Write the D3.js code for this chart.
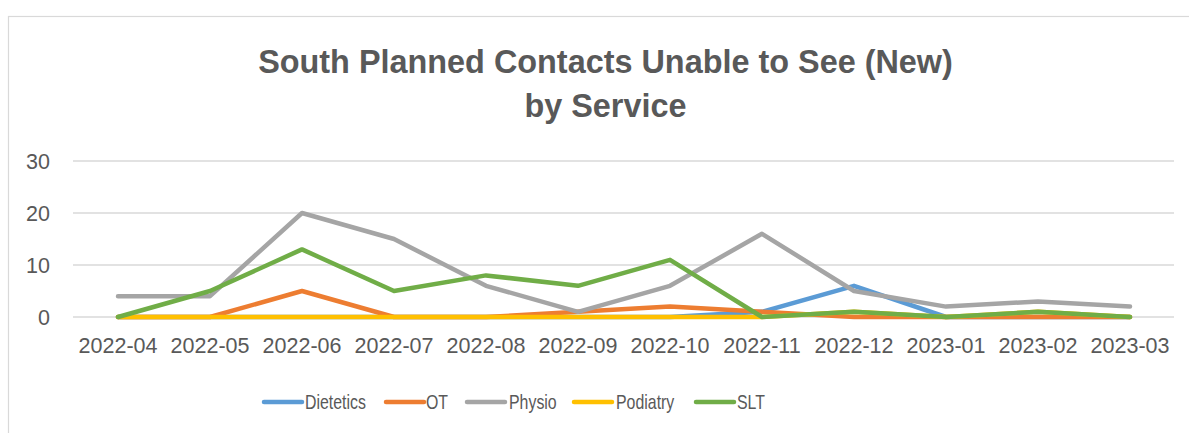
<!DOCTYPE html>
<html><head><meta charset="utf-8">
<script src="https://cdn.jsdelivr.net/npm/d3@7"></script>
<style>body{margin:0;background:#fff;} svg{display:block;}</style>
</head><body>
<svg id="c" width="1189" height="433"></svg>
<script>
const categories = ["2022-04","2022-05","2022-06","2022-07","2022-08","2022-09","2022-10","2022-11","2022-12","2023-01","2023-02","2023-03"];
const dietetics = [0,0,0,0,0,0,0,1,6,0,0,0];
const ot        = [0,0,5,0,0,1,2,1,0,0,0,0];
const physio    = [4,4,20,15,6,1,6,16,5,2,3,2];
const podiatry  = [0,0,0,0,0,0,0,0,1,0,1,0];
const slt       = [0,5,13,5,8,6,11,0,1,0,1,0];
const seriesNames = ["Dietetics","OT","Physio","Podiatry","SLT"];
const yTicks = [0,10,20,30];
const titleLines = ["South Planned Contacts Unable to See (New)","by Service"];

const seriesValues = [dietetics, ot, physio, podiatry, slt];
const colors = ["#5b9bd5","#ed7d31","#a5a5a5","#ffc000","#70ad47"];
const svg = d3.select("#c");
const font = "'Liberation Sans', Arial, sans-serif";
const txt = "#595959";

// chart border
svg.append("rect").attr("x",8.5).attr("y",16.5).attr("width",1200).attr("height",430)
  .attr("fill","#fff").attr("stroke","#d9d9d9").attr("stroke-width",1.2);

function fit(sel, w){
  const l = sel.node().getComputedTextLength();
  const fs = parseFloat(sel.attr("font-size"));
  sel.attr("font-size", fs*w/l);
}

// title
const t1 = svg.append("text").attr("x",605.5).attr("y",62).attr("text-anchor","middle")
  .attr("dominant-baseline","central").attr("font-family",font).attr("font-weight","bold")
  .attr("font-size",29).attr("fill",txt).text(titleLines[0]);
fit(t1, 695);
const t2 = svg.append("text").attr("x",605.5).attr("y",106).attr("text-anchor","middle")
  .attr("dominant-baseline","central").attr("font-family",font).attr("font-weight","bold")
  .attr("font-size",t1.attr("font-size")).attr("fill",txt).text(titleLines[1]);

const x = d3.scaleBand().domain(categories).range([72,1176]);
const y = d3.scaleLinear().domain([0,30]).range([317,161]);

// grid
svg.append("g").selectAll("line").data(yTicks).join("line")
  .attr("x1",73).attr("x2",1174).attr("y1",d=>y(d)).attr("y2",d=>y(d))
  .attr("stroke","#d9d9d9").attr("stroke-width",1.5);

// y axis labels
const yAxis = svg.append("g").attr("transform","translate(50,0)")
  .call(d3.axisLeft(y).tickValues(yTicks).tickSize(0).tickPadding(0));
yAxis.select(".domain").remove();
yAxis.selectAll("text").attr("font-family",font).attr("font-size",18.5).attr("fill",txt)
  .attr("dy","0.35em");

// x axis labels
const xAxis = svg.append("g").attr("transform","translate(0,345)")
  .call(d3.axisBottom(x).tickSize(0).tickPadding(0));
xAxis.select(".domain").remove();
xAxis.selectAll("text").attr("font-family",font).attr("font-size",21).attr("fill",txt)
  .attr("dy","0.35em");
fit(xAxis.select("text"), 79);
const xfs = xAxis.select("text").attr("font-size");
xAxis.selectAll("text").attr("font-size",xfs);
yAxis.selectAll("text").attr("font-size",xfs);

// lines
const line = d3.line().x((d,i)=>x(categories[i])+x.bandwidth()/2).y(d=>y(d));
svg.append("g").selectAll("path").data(seriesValues).join("path")
  .attr("d",d=>line(d)).attr("fill","none").attr("stroke",(d,i)=>colors[i])
  .attr("stroke-width",4.5).attr("stroke-linecap","round").attr("stroke-linejoin","round");

// legend
const legX = [264,386,467,574,696];
const legTX = [305,426,509,616,737];
const leg = svg.append("g").selectAll("g").data(seriesNames).join("g");
leg.append("line").attr("x1",(d,i)=>legX[i]).attr("x2",(d,i)=>legX[i]+38).attr("y1",402).attr("y2",402)
  .attr("stroke",(d,i)=>colors[i]).attr("stroke-width",4.5).attr("stroke-linecap","round");
const lt = leg.append("text").attr("x",0).attr("y",0).attr("dominant-baseline","central")
  .attr("font-family",font).attr("font-size",21).attr("fill",txt).text(d=>d);
const k = 61 / lt.nodes()[0].getComputedTextLength();
lt.attr("transform",(d,i)=>`translate(${legTX[i]},402) scale(${k},1)`);
</script>
</body></html>
